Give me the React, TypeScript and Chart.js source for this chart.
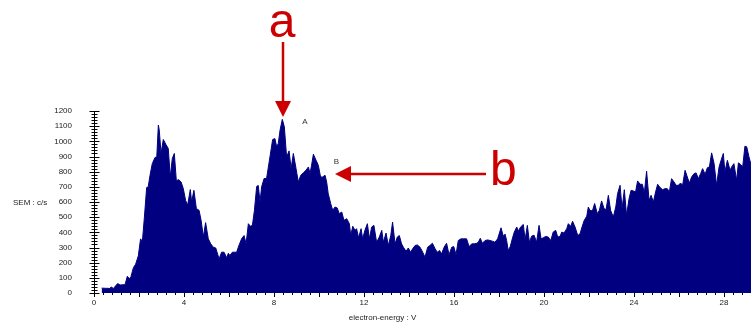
import React, { useEffect, useRef } from 'react';
import { Chart, registerables } from 'chart.js';

Chart.register(...registerables);

// electron energy (V)
const energy = [
  0.34, 0.71, 0.76, 0.86, 1.05, 1.16, 1.38, 1.48, 1.57, 1.64, 1.75, 1.85, 1.97, 2.07, 2.15, 2.24, 2.34, 2.41, 2.49, 2.59,
  2.71, 2.79, 2.86, 2.9, 2.98, 3.08, 3.19, 3.3, 3.39, 3.48, 3.57, 3.66, 3.75, 3.87, 3.97, 4.07, 4.16, 4.28, 4.34, 4.44,
  4.55, 4.67, 4.76, 4.86, 4.96, 5.08, 5.19, 5.3, 5.41, 5.56, 5.67, 5.78, 5.9, 5.97, 6.04, 6.15, 6.34, 6.44, 6.56, 6.67,
  6.76, 6.86, 6.95, 7.04, 7.13, 7.23, 7.3, 7.38,
  7.45, 7.56, 7.67, 7.82, 7.94, 8.04, 8.12, 8.19, 8.27, 8.37, 8.46, 8.56, 8.67, 8.76, 8.86, 8.98, 9.08, 9.19, 9.3, 9.42,
  9.53, 9.6, 9.67, 9.75, 9.87, 9.97, 10.07, 10.16, 10.27, 10.34, 10.41, 10.52, 10.61, 10.71, 10.81, 10.9, 11.01, 11.11,
  11.23, 11.35, 11.41, 11.5, 11.6, 11.67, 11.76, 11.87, 11.94, 12.04, 12.15, 12.24, 12.34, 12.44, 12.56, 12.68, 12.79,
  12.86, 12.98, 13.08, 13.19, 13.27, 13.38, 13.48, 13.57, 13.67, 13.75, 13.87, 13.97, 14.07, 14.16, 14.27, 14.37, 14.49,
  14.61, 14.71,
  14.83, 14.93, 15.04, 15.16, 15.26, 15.36, 15.45, 15.56, 15.67, 15.78, 15.9, 15.99, 16.09, 16.19, 16.31, 16.41, 16.56,
  16.67, 16.79, 16.9, 17.01, 17.08, 17.17, 17.26, 17.38, 17.5, 17.6, 17.7, 17.82, 17.94, 18.09, 18.19, 18.27, 18.34,
  18.41, 18.5, 18.59, 18.68, 18.79, 18.86, 18.96, 19.08, 19.16, 19.26, 19.35, 19.45, 19.56, 19.67, 19.78, 19.87, 19.97,
  20.07, 20.19, 20.3, 20.41, 20.52, 20.61, 20.71, 20.79, 20.89, 21.01, 21.08, 21.19, 21.27, 21.38, 21.5, 21.6, 21.7,
  21.79, 21.9, 21.97, 22.04,
  22.15, 22.25, 22.37, 22.46, 22.56, 22.67, 22.76, 22.86, 22.96, 23.08, 23.19, 23.27, 23.38, 23.47, 23.57, 23.67, 23.78,
  23.87, 23.97, 24.07, 24.16, 24.27, 24.37, 24.46, 24.56, 24.67, 24.76, 24.86, 24.96, 25.05, 25.16, 25.27, 25.38, 25.48,
  25.57, 25.67, 25.78, 25.87, 25.97, 26.07, 26.16, 26.27, 26.37, 26.46, 26.56, 26.67, 26.76, 26.86, 26.96, 27.05, 27.16,
  27.26, 27.35, 27.45, 27.56, 27.67, 27.78, 27.87, 27.97, 28.04, 28.15, 28.27, 28.34, 28.44, 28.56, 28.64, 28.74, 28.83,
  28.93, 29.01, 29.11, 29.19, 29.3,
];

// SEM count rate (c/s)
const sem = [
  32, 30, 40, 30, 62, 53, 55, 110, 95, 106, 167, 190, 245, 357, 340, 500, 695, 700, 776, 853,
  893, 897, 1107, 1074, 920, 1012, 981, 953, 765, 887, 920, 739, 748, 732, 688, 611, 578, 682, 600, 677,
  556, 545, 479, 369, 464, 357, 324, 302, 297, 225, 269, 269, 232, 262, 247, 269, 269, 313, 357, 379,
  324, 457, 440, 446, 545, 703, 709, 600,
  700, 755, 755, 897, 1012, 1018, 964, 986, 1074, 1145, 1095, 897, 937, 820, 920, 820, 732, 776, 792, 809,
  831, 787, 842, 915, 875, 842, 765, 765, 776, 732, 655, 590, 545, 567, 561, 523, 534, 479,
  490, 457, 379, 440, 413, 424, 364, 424, 357, 413, 457, 357, 435, 446, 335, 369, 413,
  335, 395, 313, 379, 468, 324, 369, 379, 324, 302, 275, 297, 269, 291, 313, 317, 302,
  269, 236,
  302, 313, 328, 291, 269, 280, 258, 302, 328, 253, 302, 306, 253, 346, 357, 357, 357,
  306, 324, 324, 328, 335, 361, 328, 346, 350, 346, 342, 335, 357, 430, 375, 388, 346,
  280, 306, 357, 402, 435, 408, 435, 452, 350, 446, 335, 375, 381, 335, 446, 357, 364,
  373, 369, 346, 402, 413, 369, 373, 402, 395, 424, 457, 440, 473, 435, 379, 390, 440,
  479, 506, 567, 545,
  541, 590, 523, 545, 607, 556, 550, 644, 545, 501, 567, 655, 710, 556, 681, 512, 622,
  677, 673, 666, 739, 717, 717, 660, 803, 611, 644, 600, 666, 717, 695, 681, 688, 688,
  666, 754, 732, 710, 710, 725, 710, 809, 765, 725, 765, 787, 792, 754, 787, 820, 783,
  826, 831, 924, 853, 710, 831, 875, 920, 798, 875, 809, 831, 853, 743, 858, 847, 831,
  968, 964, 897, 853, 850,
];

const xTickLabels = [0, 4, 8, 12, 16, 20, 24, 28];
const yTickLabels = [0, 100, 200, 300, 400, 500, 600, 700, 800, 900, 1000, 1100, 1200];

const xTitle = 'electron-energy : V';
const yTitle = 'SEM : c/s';
const peakLabels = ['A', 'B'];
const arrowLabels = ['a', 'b'];

const FONT = '"Liberation Sans", Arial, Helvetica, sans-serif';
const NAVY = '#000080';
const RED = '#cc0000';

export default function App() {
  const ref = useRef<HTMLCanvasElement | null>(null);

  useEffect(() => {
    if (!ref.current) return;

    const overlay = {
      id: 'overlay',
      afterDraw(chart: any) {
        const ctx = chart.ctx as CanvasRenderingContext2D;
        const xs = chart.scales.x;
        const ys = chart.scales.y;
        const area = chart.chartArea;
        ctx.save();

        // y axis line
        ctx.strokeStyle = '#000';
        ctx.lineWidth = 1;
        const ax = Math.round(area.left) + 0.5;
        ctx.beginPath();
        ctx.moveTo(ax, Math.round(ys.getPixelForValue(1200)) + 0.5);
        ctx.lineTo(ax, Math.round(ys.getPixelForValue(0)) + 0.5);
        ctx.stroke();

        // y ticks (major every 100, minor every 20)
        for (let v = 0; v <= 1200; v += 20) {
          const py = Math.round(ys.getPixelForValue(v)) + 0.5;
          const major = v % 100 === 0;
          ctx.beginPath();
          ctx.moveTo(ax - (major ? 5 : 3), py);
          ctx.lineTo(ax + (major ? 5 : 3), py);
          ctx.stroke();
        }

        // x ticks (minor every 0.4, major every 2)
        const by = Math.round(area.bottom);
        for (let i = 0; i * 0.4 <= xs.max + 1e-6; i++) {
          const v = i * 0.4;
          const px = Math.round(xs.getPixelForValue(v)) + 0.5;
          const major = i % 5 === 0;
          ctx.beginPath();
          ctx.moveTo(px, by);
          ctx.lineTo(px, by + (major ? 4 : 2));
          ctx.stroke();
        }

        // axis titles
        ctx.fillStyle = '#222';
        ctx.font = `8px ${FONT}`;
        ctx.textBaseline = 'alphabetic';
        ctx.textAlign = 'left';
        ctx.fillText(yTitle, 13, 204.5);
        ctx.textAlign = 'center';
        ctx.fillText(xTitle, 382.5, 320);

        // peak labels
        ctx.fillStyle = '#333';
        ctx.textBaseline = 'middle';
        ctx.fillText(peakLabels[0], 305, 122);
        ctx.fillText(peakLabels[1], 336.5, 161.5);

        // red annotations
        ctx.fillStyle = RED;
        ctx.strokeStyle = RED;
        ctx.font = `48px ${FONT}`;
        ctx.textBaseline = 'alphabetic';
        ctx.textAlign = 'center';
        ctx.fillText(arrowLabels[0], 282, 37);
        ctx.textAlign = 'left';
        ctx.fillText(arrowLabels[1], 490, 184.5);

        ctx.lineWidth = 2.5;
        // arrow a (vertical, pointing down)
        ctx.beginPath();
        ctx.moveTo(283, 42);
        ctx.lineTo(283, 102);
        ctx.stroke();
        ctx.beginPath();
        ctx.moveTo(275, 101);
        ctx.lineTo(291, 101);
        ctx.lineTo(283, 117);
        ctx.closePath();
        ctx.fill();

        // arrow b (horizontal, pointing left)
        ctx.beginPath();
        ctx.moveTo(486, 174);
        ctx.lineTo(350, 174);
        ctx.stroke();
        ctx.beginPath();
        ctx.moveTo(351, 166);
        ctx.lineTo(351, 182);
        ctx.lineTo(335, 174);
        ctx.closePath();
        ctx.fill();

        ctx.restore();
      },
    };

    const chart = new Chart(ref.current, {
      type: 'line',
      data: {
        datasets: [
          {
            data: energy.map((e, i) => ({ x: e, y: sem[i] })),
            borderColor: NAVY,
            backgroundColor: NAVY,
            borderWidth: 1,
            pointRadius: 0,
            fill: 'origin',
            tension: 0,
          },
        ],
      },
      options: {
        responsive: false,
        animation: false,
        devicePixelRatio: 1,
        layout: { padding: { left: 0, top: 111, right: 0, bottom: 0 } },
        plugins: {
          legend: { display: false },
          tooltip: { enabled: false },
        },
        scales: {
          x: {
            type: 'linear',
            position: 'bottom',
            min: 0,
            max: 29.2,
            grid: { display: false, drawTicks: false },
            border: { display: false },
            afterBuildTicks: (s: any) => {
              s.ticks = xTickLabels.map((v) => ({ value: v }));
            },
            afterFit: (s: any) => {
              s.height = 30;
            },
            ticks: {
              autoSkip: false,
              maxRotation: 0,
              padding: 5,
              color: '#222',
              font: { family: FONT, size: 8 },
              callback: (v: any) => String(v),
            },
          },
          y: {
            type: 'linear',
            position: 'left',
            min: 0,
            max: 1200,
            grid: { display: false, drawTicks: false },
            border: { display: false },
            afterBuildTicks: (s: any) => {
              s.ticks = yTickLabels.map((v) => ({ value: v }));
            },
            afterFit: (s: any) => {
              s.width = 94;
            },
            ticks: {
              autoSkip: false,
              padding: 22,
              color: '#222',
              font: { family: FONT, size: 8 },
              callback: (v: any) => String(v),
            },
          },
        },
      },
      plugins: [overlay],
    } as any);

    return () => {
      chart.destroy();
    };
  }, []);

  return (
    <div style={{ position: 'fixed', left: 0, top: 0, width: 751, height: 323, background: '#fff' }}>
      <canvas ref={ref} width={751} height={323} style={{ display: 'block', width: 751, height: 323 }} />
    </div>
  );
}
